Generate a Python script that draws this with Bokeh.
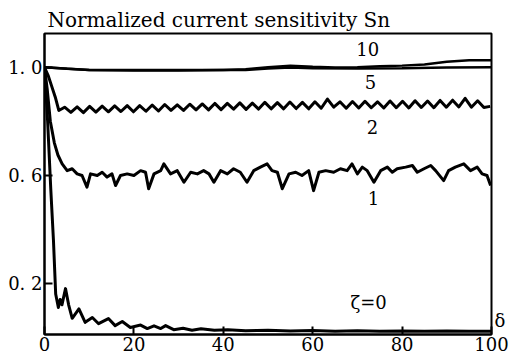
from bokeh.plotting import figure
from bokeh.models import Range1d, FixedTicker, Label, LinearAxis
from bokeh.embed import file_html
from bokeh.resources import INLINE

title_text = "Normalized current sensitivity Sn"
x_ticks = [0, 20, 40, 60, 80, 100]
y_ticks = [0.2, 0.6, 1.0]
y_tick_labels = ["0. 2", "0. 6", "1. 0"]
delta_pos = [0.062]
delta_label = ["\u03b4"]

# zeta = 10
x10 = [0, 5, 10, 20, 30, 40, 45, 50, 55, 60, 65, 70, 75, 80, 85, 90, 95, 100]
y10 = [1.0, 0.994, 0.99, 0.99, 0.99, 0.99, 0.993, 1.0, 1.006, 1.002, 0.999, 1.0,
       1.004, 1.006, 1.01, 1.02, 1.026, 1.026]
# zeta = 5
x5 = [0, 10, 20, 30, 40, 45, 50, 55, 60, 70, 80, 90, 100]
y5 = [1.0, 0.99, 0.988, 0.988, 0.99, 0.99, 0.995, 0.999, 0.996, 0.995, 0.996, 0.999, 1.0]

# zeta = 2
x2 = [0, 0.8, 1.6, 2.4, 3.2, 4.5, 5.9, 7.3, 8.7, 10.1, 11.5, 12.9, 14.3, 15.7, 17.1,
      18.5, 19.9, 21.3, 22.7, 24.1, 25.5, 26.9, 28.3, 29.7, 31.1, 32.5, 33.9, 35.3,
      36.7, 38.1, 39.5, 40.9, 42.3, 43.7, 45.1, 46.5, 47.9, 49.3, 50.7, 52.1, 53.5,
      54.9, 56.3, 57.7, 59.1, 60.5, 61.9, 63.3, 64.7, 66.1, 67.5, 68.9, 70.3, 71.7,
      73.1, 74.5, 75.9, 77.3, 78.7, 80.1, 81.5, 82.9, 84.3, 85.7, 87.1, 88.5, 89.9,
      91.3, 92.7, 94.1, 95.5, 96.9, 98.3, 99.7]
y2 = [1.0, 0.97, 0.93, 0.89, 0.84,
      0.852, 0.833, 0.853, 0.832, 0.855, 0.834, 0.856, 0.835, 0.857, 0.836,
      0.858, 0.835, 0.858, 0.837, 0.86, 0.838, 0.862, 0.84, 0.861, 0.84,
      0.863, 0.842, 0.864, 0.842, 0.866, 0.843, 0.866, 0.845, 0.868, 0.844,
      0.867, 0.845, 0.87, 0.846, 0.869, 0.846, 0.871, 0.847, 0.87, 0.846,
      0.872, 0.848, 0.882, 0.852, 0.872, 0.848, 0.873, 0.849, 0.874, 0.85,
      0.872, 0.849, 0.875, 0.85, 0.874, 0.849, 0.876, 0.851, 0.875, 0.85,
      0.877, 0.852, 0.878, 0.853, 0.885, 0.852, 0.876, 0.851, 0.855]

# zeta = 1
x1 = [0, 0.6, 1.3, 2.2, 3.0, 3.95, 5.07, 6.19, 7.3, 8.4, 9.5, 10.3, 11.8, 12.9, 14.0,
      15.1, 15.9, 17.0, 18.5, 20.0, 21.5, 22.6, 23.3, 24.5, 26.0, 26.7, 28.2, 29.7,
      31.2, 32.7, 34.2, 35.6, 36.8, 37.9, 39.4, 40.9, 42.3, 43.8, 45.3, 46.8, 48.3,
      49.8, 50.9, 52.1, 53.2, 54.7, 56.2, 57.6, 59.1, 60.2, 61.4, 62.9, 64.7, 66.2,
      67.7, 68.8, 70.0, 71.1, 72.2, 73.7, 75.2, 76.7, 77.8, 78.9, 80.8, 82.3, 83.4,
      84.9, 86.4, 87.5, 89.3, 90.4, 91.9, 93.8, 95.3, 96.8, 97.9, 99.0, 99.8]
y1 = [1.0, 0.92, 0.8, 0.72, 0.675, 0.642, 0.617, 0.624, 0.605, 0.599, 0.556, 0.605,
      0.599, 0.611, 0.593, 0.605, 0.562, 0.599, 0.605, 0.599, 0.617, 0.611, 0.55,
      0.605, 0.617, 0.642, 0.605, 0.617, 0.574, 0.611, 0.605, 0.617, 0.605, 0.574,
      0.617, 0.605, 0.624, 0.611, 0.574, 0.617, 0.63, 0.642, 0.617, 0.611, 0.55,
      0.605, 0.611, 0.599, 0.617, 0.543, 0.611, 0.617, 0.611, 0.624, 0.617, 0.642,
      0.605, 0.63, 0.617, 0.574, 0.617, 0.63, 0.611, 0.624, 0.63, 0.636, 0.611,
      0.624, 0.636, 0.617, 0.58, 0.617, 0.63, 0.642, 0.617, 0.63, 0.605, 0.599, 0.562]

# zeta = 0
x0 = [0, 0.7, 1.4, 2.0, 2.5, 3.1, 3.5, 3.9, 4.7, 5.4, 6.2, 7.7, 9.1, 10.7, 12.1, 14.3,
      15.8, 17.4, 19.2, 21.5, 23.0, 24.5, 26.0, 27.1, 28.9, 31, 33, 35, 38, 41, 45,
      50, 55, 60, 65, 70, 75, 80, 85, 90, 95, 100]
y0 = [1.0, 0.8, 0.55, 0.36, 0.16, 0.11, 0.14, 0.12, 0.18, 0.12, 0.07, 0.105, 0.055,
      0.073, 0.05, 0.069, 0.043, 0.058, 0.036, 0.045, 0.032, 0.042, 0.032, 0.043,
      0.028, 0.033, 0.026, 0.031, 0.026, 0.028, 0.024, 0.026, 0.023, 0.025, 0.022,
      0.024, 0.022, 0.023, 0.022, 0.023, 0.022, 0.022]

curve_labels = ["10", "5", "2", "1", "\u03b6=0"]
label_x = [72.3, 72.9, 73.4, 73.6, 72.5]
label_y = [1.066, 0.947, 0.777, 0.517, 0.129]

FONT = "DejaVu Serif"

p = figure(width=509, height=360, output_backend="svg", toolbar_location=None,
           x_range=Range1d(0, 100), y_range=Range1d(0.01, 1.125),
           min_border_left=44, min_border_right=18, min_border_top=33,
           min_border_bottom=26)
p.grid.visible = False
p.background_fill_color = "white"
p.border_fill_color = "white"
p.outline_line_color = "black"
p.outline_line_width = 2

p.title.text = title_text
p.title.text_font = FONT
p.title.text_font_size = "20px"
p.title.text_font_style = "normal"
p.title.text_color = "black"
p.title.align = "left"
p.title.offset = 3
p.title.standoff = 4

for ax in (p.xaxis[0], p.yaxis[0]):
    ax.axis_line_width = 2
    ax.axis_line_color = "black"
    ax.major_tick_in = 8
    ax.major_tick_out = 0
    ax.major_tick_line_width = 2
    ax.minor_tick_line_color = None
    ax.major_label_text_font = FONT
    ax.major_label_text_font_size = "18px"
    ax.major_label_text_color = "black"
    ax.major_label_standoff = 2

p.xaxis[0].ticker = FixedTicker(ticks=x_ticks)
p.yaxis[0].ticker = FixedTicker(ticks=y_ticks)
p.yaxis[0].major_label_overrides = dict(zip(y_ticks, y_tick_labels))

right_ax = LinearAxis(ticker=FixedTicker(ticks=delta_pos),
                      major_label_overrides=dict(zip(delta_pos, delta_label)),
                      axis_line_color=None, major_tick_line_color=None,
                      major_tick_in=0, major_tick_out=0,
                      minor_tick_line_color=None, minor_tick_in=0, minor_tick_out=0,
                      major_label_standoff=3,
                      major_label_text_font=FONT, major_label_text_font_size="18px",
                      major_label_text_color="black")
p.add_layout(right_ax, "right")

lw = 3
p.line(x10, y10, line_color="black", line_width=2.5)
p.line(x5, y5, line_color="black", line_width=2.5)
p.line(x2, y2, line_color="black", line_width=lw, line_join="round")
p.line(x1, y1, line_color="black", line_width=lw, line_join="round")
p.line(x0, y0, line_color="black", line_width=lw, line_join="round")

for t, lx, ly in zip(curve_labels, label_x, label_y):
    p.add_layout(Label(x=lx, y=ly, text=t, text_font=FONT, text_font_size="18px",
                       text_align="center", text_baseline="middle", text_color="black"))

open("out.html", "w").write(file_html(p, INLINE))
